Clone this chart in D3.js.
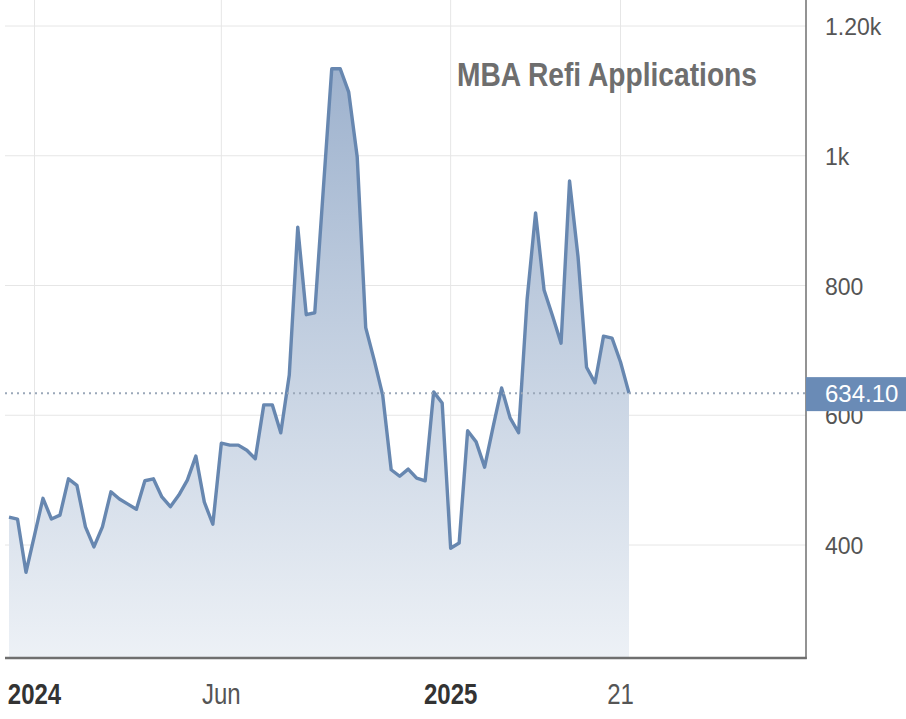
<!DOCTYPE html>
<html>
<head>
<meta charset="utf-8">
<script src="https://cdn.jsdelivr.net/npm/d3@7"></script>
<style>
  html, body { margin: 0; padding: 0; background: #ffffff; }
  svg { display: block; }
</style>
</head>
<body>
<svg id="chart" width="906" height="719"></svg>
<script>
// ---- data ----
const weeks = [
  "2023-12-13","2023-12-20","2023-12-27","2024-01-03","2024-01-10","2024-01-17","2024-01-24","2024-01-31",
  "2024-02-07","2024-02-14","2024-02-21","2024-02-28","2024-03-06","2024-03-13","2024-03-20","2024-03-27",
  "2024-04-03","2024-04-10","2024-04-17","2024-04-24","2024-05-01","2024-05-08","2024-05-15","2024-05-22",
  "2024-05-29","2024-06-05","2024-06-12","2024-06-19","2024-06-26","2024-07-10","2024-07-17","2024-07-24",
  "2024-07-31","2024-08-07","2024-08-14","2024-08-21","2024-08-28","2024-09-04","2024-09-11","2024-09-18",
  "2024-09-25","2024-10-02","2024-10-09","2024-10-16","2024-10-23","2024-10-30","2024-11-06","2024-11-13",
  "2024-11-20","2024-12-04","2024-12-11","2024-12-18","2025-01-01","2025-01-08","2025-01-15","2025-01-22",
  "2025-01-29","2025-02-05","2025-02-12","2025-02-19","2025-02-26","2025-03-05","2025-03-12","2025-03-19",
  "2025-03-26","2025-04-02","2025-04-09","2025-04-16","2025-04-23","2025-04-30","2025-05-07","2025-05-14",
  "2025-05-21","2025-05-28"
];
const refiIndex = [
  443, 440, 358, 415, 472, 440, 446, 502, 492, 428, 397, 428, 482, 471, 463, 455,
  499, 502, 474, 459, 477, 500, 537, 466, 432, 557, 554, 554, 546, 533, 616, 616,
  573, 662, 890, 755, 758, 947, 1134, 1134, 1098, 998, 735, 685, 631, 516, 506, 517,
  503, 499, 636, 619, 395, 403, 576, 559, 520, 582, 642, 596, 573, 778, 912, 793,
  753, 711, 961, 844, 674, 650, 722, 719, 682, 634.10
];
const lastValue = 634.10;
const yTicks = [400, 600, 800, 1000, 1200];
const yTickLabels = ["400", "600", "800", "1k", "1.20k"];
const xTickWeeks = ["2024-01-03", "2024-06-05", "2025-01-01", "2025-05-21"];
const xTickLabels = ["2024", "Jun", "2025", "21"];
const title = "MBA Refi Applications";

// ---- layout ----
const W = 906, H = 719;
const plot = { left: 5, right: 806, top: 0, bottom: 658 };

const svg = d3.select("#chart");

const x = d3.scaleLinear().domain([0, weeks.length - 1]).range([9, 629]);
const xw = w => x(weeks.indexOf(w));
const y = d3.scaleLinear().domain([400, 1200]).range([545, 26]);

// gradient
const defs = svg.append("defs");
const grad = defs.append("linearGradient")
  .attr("id", "areaGrad").attr("gradientUnits", "userSpaceOnUse")
  .attr("x1", 0).attr("x2", 0).attr("y1", plot.top).attr("y2", plot.bottom);
grad.append("stop").attr("offset", "0%").attr("stop-color", "#95abc9");
grad.append("stop").attr("offset", "100%").attr("stop-color", "#edf1f6");

defs.append("clipPath").attr("id", "plotClip").append("rect")
  .attr("x", plot.left).attr("y", plot.top)
  .attr("width", plot.right - plot.left).attr("height", plot.bottom - plot.top);

// grid
const grid = svg.append("g");
grid.selectAll("line.h").data(yTicks).join("line")
  .attr("x1", plot.left).attr("x2", plot.right)
  .attr("y1", d => y(d)).attr("y2", d => y(d))
  .attr("stroke", "#e6e6e6").attr("stroke-width", 1);
grid.selectAll("line.v").data(xTickWeeks).join("line")
  .attr("x1", d => xw(d)).attr("x2", d => xw(d))
  .attr("y1", plot.top).attr("y2", plot.bottom)
  .attr("stroke", "#e6e6e6").attr("stroke-width", 1);

const data = weeks.map((w, i) => ({ i, v: refiIndex[i] }));

const g = svg.append("g").attr("clip-path", "url(#plotClip)");
g.append("path").datum(data)
  .attr("d", d3.area().x(d => x(d.i)).y0(plot.bottom).y1(d => y(d.v)))
  .attr("fill", "url(#areaGrad)");

// last value dotted line
svg.append("line")
  .attr("x1", plot.left).attr("x2", plot.right)
  .attr("y1", y(lastValue)).attr("y2", y(lastValue))
  .attr("stroke", "#9ba8b9").attr("stroke-width", 2)
  .attr("stroke-dasharray", "2,4");

g.append("path").datum(data)
  .attr("d", d3.line().x(d => x(d.i)).y(d => y(d.v)))
  .attr("fill", "none").attr("stroke", "#6787b0")
  .attr("stroke-width", 3.4).attr("stroke-linejoin", "round");

// axes lines
svg.append("line").attr("x1", plot.right).attr("x2", plot.right)
  .attr("y1", plot.top).attr("y2", plot.bottom + 1)
  .attr("stroke", "#6f6f6f").attr("stroke-width", 1.5);
svg.append("line").attr("x1", plot.left).attr("x2", plot.right + 0.75)
  .attr("y1", plot.bottom).attr("y2", plot.bottom)
  .attr("stroke", "#6f6f6f").attr("stroke-width", 2.5);

// y labels
svg.append("g").selectAll("text").data(yTicks).join("text")
  .attr("x", 825).attr("y", d => y(d) + 3)
  .attr("dominant-baseline", "middle")
  .attr("font-family", "'Liberation Sans', Arial, sans-serif")
  .attr("font-size", 23).attr("fill", "#555")
  .text((d, i) => yTickLabels[i]);

// x labels (condensed look)
svg.append("g").selectAll("text").data(xTickWeeks).join("text")
  .attr("transform", d => `translate(${xw(d)},704) scale(0.8,1)`)
  .attr("text-anchor", "middle")
  .attr("font-family", "'Liberation Sans', Arial, sans-serif")
  .attr("font-size", 30)
  .attr("font-weight", (d, i) => /^\d{4}$/.test(xTickLabels[i]) ? "bold" : "normal")
  .attr("fill", (d, i) => /^\d{4}$/.test(xTickLabels[i]) ? "#333" : "#555")
  .text((d, i) => xTickLabels[i]);

// badge
svg.append("rect")
  .attr("x", plot.right).attr("y", y(lastValue) - 16)
  .attr("width", W - plot.right).attr("height", 34)
  .attr("fill", "#6a8bb6");
svg.append("text")
  .attr("x", 825).attr("y", y(lastValue) + 3)
  .attr("dominant-baseline", "middle")
  .attr("font-family", "'Liberation Sans', Arial, sans-serif")
  .attr("font-size", 24).attr("fill", "#ffffff")
  .text(d3.format(".2f")(lastValue));

// title
svg.append("text")
  .attr("x", 457).attr("y", 86)
  .attr("font-family", "'Liberation Sans', Arial, sans-serif")
  .attr("font-weight", "bold").attr("font-size", 33)
  .attr("fill", "#6e6e6e")
  .attr("textLength", 300).attr("lengthAdjust", "spacingAndGlyphs")
  .text(title);
</script>
</body>
</html>
